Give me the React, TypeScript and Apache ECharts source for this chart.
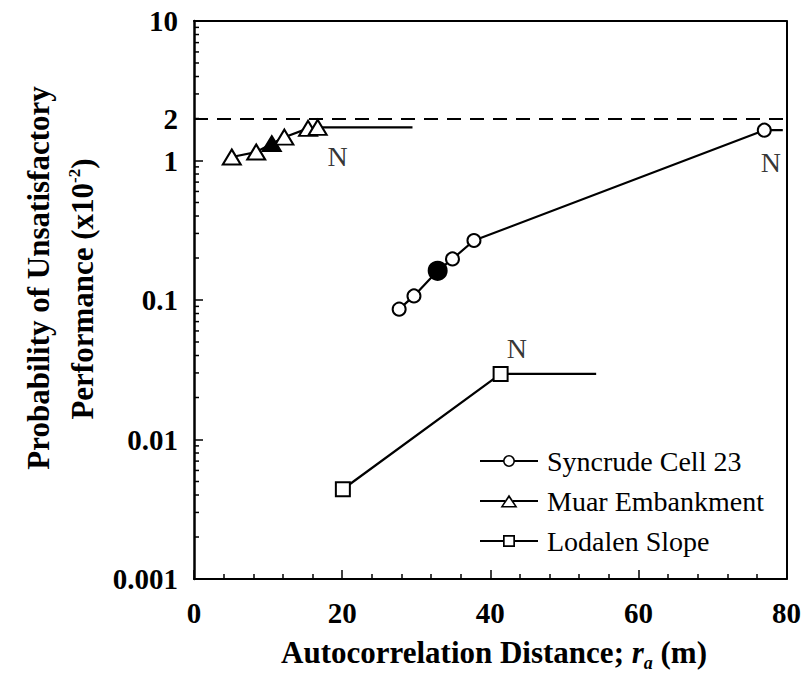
import React, { useEffect, useRef } from 'react';
import * as echarts from 'echarts';

// ---- data ----
const syncrudeX = [27.7, 29.7, 32.9, 34.9, 37.8, 77.0];
const syncrudeY = [0.086, 0.107, 0.162, 0.197, 0.267, 1.65];
const syncrudeTail = [79.5, 1.65];
const syncrudeFilled = 2;

const muarX = [5.1, 8.4, 10.5, 12.2, 15.4, 16.7];
const muarY = [1.06, 1.15, 1.32, 1.47, 1.7, 1.73];
const muarTail = [29.5, 1.73];
const muarFilled = 2;

const lodalenX = [20.1, 41.4];
const lodalenY = [0.0044, 0.0295];
const lodalenTail = [54.3, 0.0295];

const thresholdY = 2;
const nLabelX = [19.4, 77.9, 43.6];
const nLabelY = [1.065, 0.975, 0.045];

const seriesNames = ['Syncrude Cell 23', 'Muar Embankment', 'Lodalen Slope'];
const xTickLabels = ['0', '20', '40', '60', '80'];
const yTickLabels = ['0.001', '0.01', '0.1', '1', '10'];
const yDecades = [0.001, 0.01, 0.1, 1];
const yMinorSteps = [2, 3, 4, 5, 6, 7, 8, 9];

const FONT = 'Liberation Serif';

// legend icons: "—○—", "—△—", "—□—" (outline shapes with white interior)
const ICON_CIRCLE =
  'path://M0,6H23.2V8H0Z M34.8,6H58V8H34.8Z ' +
  'M23,7A6,6 0 1,1 35,7A6,6 0 1,1 23,7Z M24.6,7A4.4,4.4 0 1,0 33.4,7A4.4,4.4 0 1,0 24.6,7Z';
const ICON_TRIANGLE =
  'path://M0,6H25V8H0Z M33,6H58V8H33Z ' +
  'M29,0.5L37.5,13.5L20.5,13.5Z M29,3.8L23.3,11.9L34.7,11.9Z';
const ICON_SQUARE =
  'path://M0,6H23.2V8H0Z M34.8,6H58V8H34.8Z ' +
  'M23,1H35V13H23Z M24.7,2.7V11.3H33.3V2.7Z';

function buildData(xs: number[], ys: number[], tail: number[], filledIdx: number, filledSymbol: string, filledSize: any) {
  const pts: any[] = xs.map((x, i) =>
    i === filledIdx
      ? { value: [x, ys[i]], symbol: filledSymbol, symbolSize: filledSize, itemStyle: { color: '#000', borderColor: '#000' } }
      : { value: [x, ys[i]] }
  );
  pts.push({ value: tail, symbol: 'none' });
  return pts;
}

export default function App() {
  const ref = useRef<HTMLDivElement>(null);
  useEffect(() => {
    if (!ref.current) return;
    const chart = echarts.init(ref.current, undefined, { renderer: 'svg' });
    const minorVals: number[][] = [];
    yDecades.forEach((d) => yMinorSteps.forEach((s) => minorVals.push([0, d * s])));

    const lineCommon = {
      type: 'line',
      lineStyle: { color: '#000', width: 2.2 },
      itemStyle: { color: '#000', borderColor: '#000', borderWidth: 2 },
      z: 3,
    };
    const tickLabel = { color: '#000', fontFamily: FONT, fontSize: 29, fontWeight: 'bold' };
    const icons = [ICON_CIRCLE, ICON_TRIANGLE, ICON_SQUARE];

    const option: any = {
      animation: false,
      backgroundColor: '#fff',
      textStyle: { fontFamily: FONT },
      grid: { left: 194, right: 15, top: 21, bottom: 106 },
      xAxis: [
        {
          type: 'value', min: 0, max: 80, interval: 20, position: 'bottom',
          axisLine: { show: true, onZero: false, lineStyle: { color: '#000', width: 2.2 } },
          axisTick: { show: true, inside: true, length: 9, lineStyle: { color: '#000', width: 1.5 } },
          minorTick: { show: true, splitNumber: 5, length: 5, lineStyle: { color: '#000', width: 1.5 } },
          splitLine: { show: false },
          axisLabel: { ...tickLabel, margin: 19, formatter: (v: number) => xTickLabels[Math.round(v / 20)] },
        },
        {
          type: 'value', min: 0, max: 80, position: 'top',
          axisLine: { show: true, onZero: false, lineStyle: { color: '#000', width: 2 } },
          axisTick: { show: false }, axisLabel: { show: false }, splitLine: { show: false },
        },
      ],
      yAxis: [
        {
          type: 'log', logBase: 10, min: 0.001, max: 10, position: 'left',
          axisLine: { show: true, onZero: false, lineStyle: { color: '#000', width: 2.5 } },
          axisTick: { show: true, inside: true, length: 9, lineStyle: { color: '#000', width: 1.5 } },
          splitLine: { show: false },
          axisLabel: {
            ...tickLabel, margin: 16,
            formatter: (v: number) => yTickLabels[Math.round(Math.log10(v)) + 3],
          },
        },
        {
          type: 'log', logBase: 10, min: 0.001, max: 10, position: 'right',
          axisLine: { show: true, onZero: false, lineStyle: { color: '#000', width: 2 } },
          axisTick: { show: false }, axisLabel: { show: false }, splitLine: { show: false },
        },
      ],
      legend: {
        data: seriesNames.map((n, i) => ({ name: n, icon: icons[i] })),
        orient: 'vertical',
        left: 480,
        top: 447,
        padding: 0,
        itemWidth: 58,
        itemHeight: 14,
        itemGap: 12,
        itemStyle: { color: '#000', borderWidth: 0 },
        textStyle: { color: '#000', fontFamily: FONT, fontSize: 28, lineHeight: 28, padding: [0, 0, 0, 4] },
      },
      series: [
        {
          ...lineCommon,
          name: seriesNames[0],
          symbol: 'emptyCircle',
          symbolSize: 13,
          data: buildData(syncrudeX, syncrudeY, syncrudeTail, syncrudeFilled, 'circle', 18),
          markLine: {
            silent: true,
            symbol: 'none',
            lineStyle: { color: '#000', width: 2, type: [14, 9] },
            label: { show: true, position: 'start', distance: 16, formatter: '2', ...tickLabel },
            data: [{ yAxis: thresholdY }],
          },
        },
        {
          ...lineCommon,
          name: seriesNames[1],
          symbol: 'emptyTriangle',
          symbolSize: [18, 15],
          data: buildData(muarX, muarY, muarTail, muarFilled, 'triangle', [18, 15]),
        },
        {
          ...lineCommon,
          name: seriesNames[2],
          symbol: 'emptyRect',
          symbolSize: 14,
          data: buildData(lodalenX, lodalenY, lodalenTail, -1, 'rect', 14),
        },
        {
          type: 'scatter',
          name: 'N',
          silent: true,
          symbolSize: 1,
          itemStyle: { color: 'rgba(0,0,0,0)' },
          label: { show: true, position: 'inside', formatter: 'N', color: '#000', fontFamily: FONT, fontSize: 28 },
          data: nLabelX.map((x, i) => [x, nLabelY[i]]),
        },
        {
          type: 'custom',
          name: 'minorTicks',
          silent: true,
          clip: false,
          z: 5,
          data: minorVals,
          renderItem: (params: any, api: any) => {
            const p = api.coord([api.value(0), api.value(1)]);
            return {
              type: 'line',
              shape: { x1: p[0], y1: p[1], x2: p[0] + 5, y2: p[1] },
              style: { stroke: '#000', lineWidth: 1.5 },
            };
          },
        },
      ],
      graphic: [
        {
          type: 'text', x: 38, y: 278, rotation: Math.PI / 2,
          style: {
            text: 'Probability of Unsatisfactory', fill: '#000', fontFamily: FONT, fontSize: 31, fontWeight: 'bold',
            align: 'center', verticalAlign: 'middle',
          },
        },
        {
          type: 'text', x: 82, y: 289, rotation: Math.PI / 2,
          style: {
            text: '{b|Performance (x10}{s|-2}{b|)}', fill: '#000', align: 'center', verticalAlign: 'middle',
            rich: {
              b: { fontFamily: FONT, fontSize: 31, fontWeight: 'bold', lineHeight: 31, verticalAlign: 'bottom', fill: '#000' },
              s: { fontFamily: FONT, fontSize: 17, fontWeight: 'bold', lineHeight: 17, padding: [0, 0, 15, 0], verticalAlign: 'bottom', fill: '#000' },
            },
          },
        },
        {
          type: 'text', x: 494, y: 652,
          style: {
            text: '{b|Autocorrelation Distance; }{i|r}{s|a}{b| (m)}', fill: '#000', align: 'center', verticalAlign: 'middle',
            rich: {
              b: { fontFamily: FONT, fontSize: 31, fontWeight: 'bold', lineHeight: 31, verticalAlign: 'top', fill: '#000' },
              i: { fontFamily: FONT, fontSize: 31, fontWeight: 'bold', fontStyle: 'italic', lineHeight: 31, verticalAlign: 'top', fill: '#000' },
              s: { fontFamily: FONT, fontSize: 18, fontWeight: 'bold', fontStyle: 'italic', lineHeight: 18, padding: [17, 0, 0, 0], verticalAlign: 'top', fill: '#000' },
            },
          },
        },
      ],
    };
    chart.setOption(option);
    return () => chart.dispose();
  }, []);
  return <div ref={ref} style={{ position: 'fixed', left: 0, top: 0, width: 804, height: 685, background: '#fff' }} />;
}
